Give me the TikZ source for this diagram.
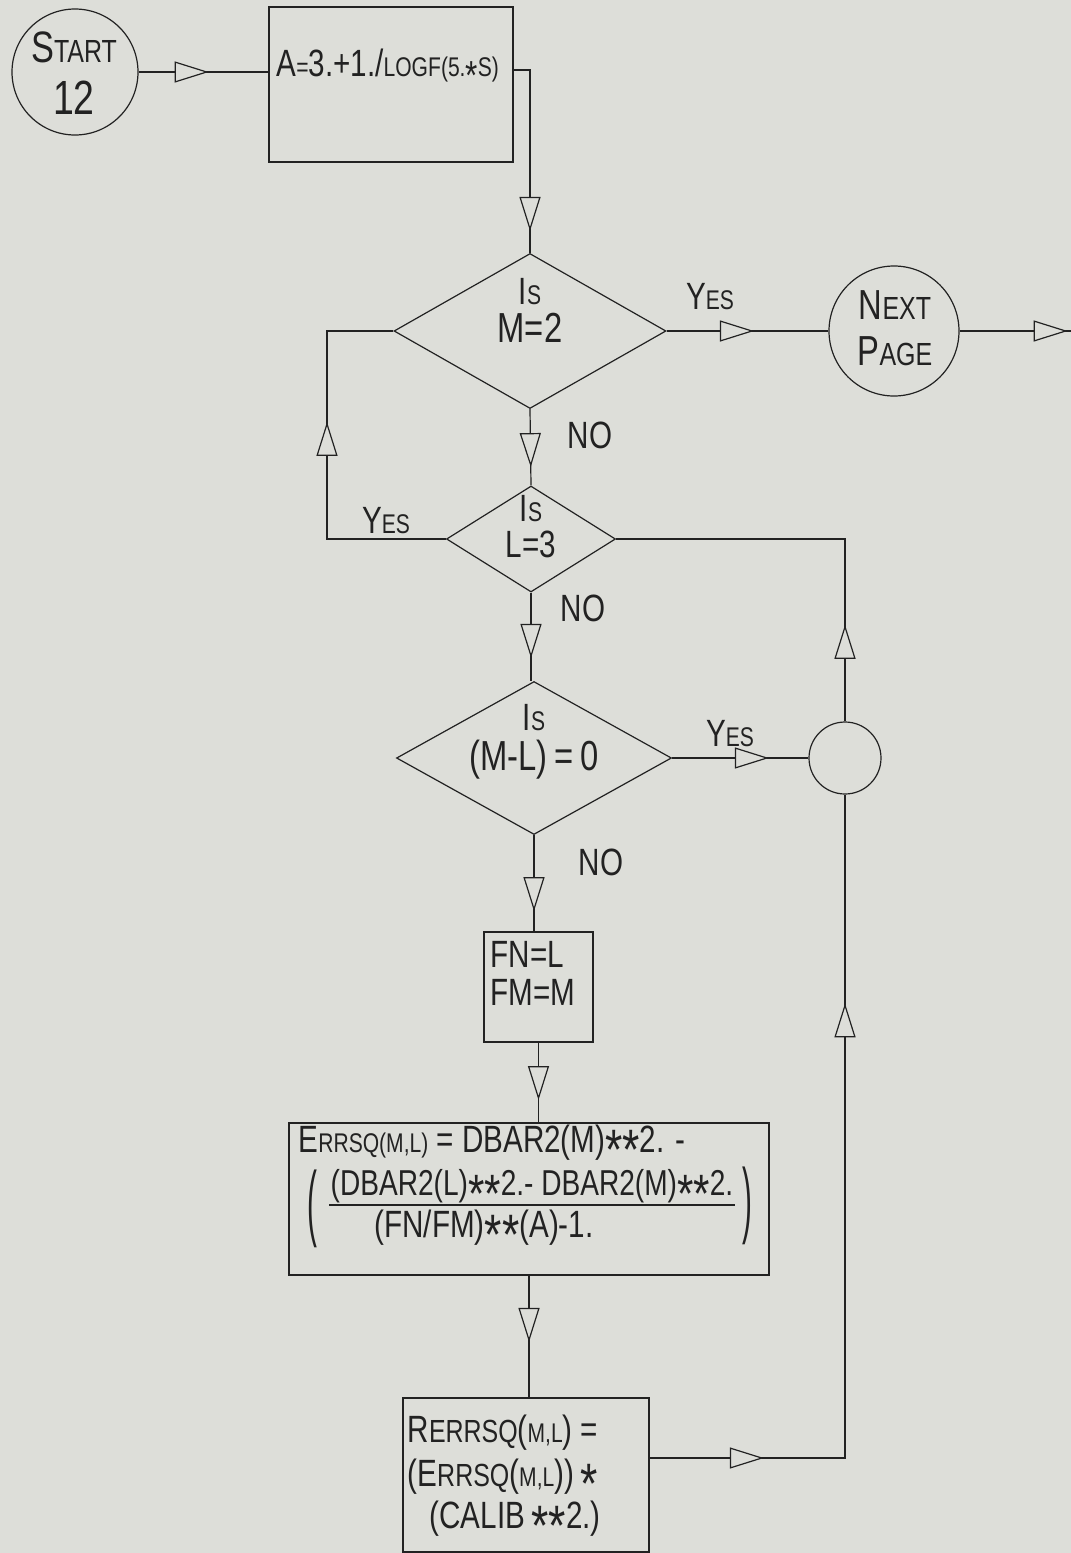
\documentclass[tikz,border=0pt]{standalone}
\usepackage{graphicx}
\usepackage{fontspec}
\setmainfont{Liberation Sans}[FakeStretch=0.78]
\usetikzlibrary{arrows.meta,shapes.geometric,decorations.markings}
\definecolor{paper}{RGB}{221,222,217}
\definecolor{ink}{RGB}{34,34,34}
\newcommand{\bigsz}{\fontsize{38}{42}\selectfont}
\newcommand{\midsz}{\fontsize{32}{36}\selectfont}
\newcommand{\smsz}{\fontsize{27}{32}\selectfont}
\newcommand{\sct}[2]{#1{\smsz #2}}
\newcommand{\mul}{\raisebox{-.45em}[0pt][0pt]{\scalebox{1.5}{*}}}
\tikzset{
  hollow/.tip={Triangle[length=34pt,width=21pt,fill=paper]},
  flow/.style={postaction={decorate},
    decoration={markings,mark=at position #1 with {\arrow{hollow}}}},
  flowtwo/.style 2 args={postaction={decorate},
    decoration={markings,mark=at position #1 with {\arrow{hollow}},
      mark=at position #2 with {\arrow{hollow}}}},
  term/.style={draw,circle,inner sep=0pt},
  proc/.style={draw,rectangle,inner sep=0pt},
  test/.style 2 args={draw,diamond,inner sep=0pt,minimum width=#1,minimum height=#2}
}
\begin{document}
\begin{tikzpicture}[x=1pt,y=-1pt,ink,line width=1.2pt,font=\bigsz,inner sep=1pt]
  \fill[paper] (0,0) rectangle (1071,1553);
  \useasboundingbox (0,0) rectangle (1071,1553);
  % start and first box
  \node[term,minimum size=126pt] (start) at (75,72) {};
  \node[align=center] (starttxt) at (74,73) {{\fontsize{44}{44}\selectfont S}{\fontsize{32}{32}\selectfont TART}\\[10pt]{\fontsize{48}{48}\selectfont 12}};
  \node[proc,minimum width=244pt,minimum height=155pt] (boxa) at (391,84.5) {};
  \node[anchor=west] (atxt) at (275,66) {A{\smsz =}3.+1./{\smsz LOGF(5.\mul S)}};
  % decisions
  \node[test={272pt}{155pt}] (m2) at (530,331) {};
  \node[align=center] (m2txt) at (530,310) {\sct{I}{S}\\[-4pt]{\fontsize{42}{42}\selectfont M=2}};
  \node[term,minimum size=130pt] (next) at (894,331) {};
  \node[align=center] (nexttxt) at (895,328) {{\fontsize{42}{42}\selectfont N}{\midsz EXT}\\[4pt]{\fontsize{42}{42}\selectfont P}{\midsz AGE}};
  \node[test={169pt}{106pt}] (l3) at (531,539) {};
  \node[align=center] (l3txt) at (531,527) {\sct{I}{S}\\[-6pt]L=3};
  \node[test={275pt}{153pt}] (ml) at (534,758) {};
  \node[align=center] (mltxt) at (534,742) {\sct{I}{S}\\[-2pt]{\fontsize{42}{42}\selectfont(M-L)\,=\,0}};
  \node[term,minimum size=72pt] (joint) at (845,758) {};
  % computing boxes
  \node[proc,minimum width=109pt,minimum height=110pt] (fn) at (538.5,987) {};
  \node[anchor=west,align=left] (fntxt) at (489,973) {FN=L\\[-4pt]FM=M};
  \node[proc,minimum width=480pt,minimum height=152pt] (err) at (529,1199) {};
  \node[anchor=west] (errtop) at (297,1143) {E{\smsz RRSQ(M,L)} = DBAR2(M)\mul\mul 2. -};
  \node[inner sep=0pt] (lpar) at (312,1209) {\scalebox{1}[2.2]{(}};
  \node[inner sep=0pt] (rpar) at (747,1206) {\scalebox{1}[2.2]{)}};
  \node[anchor=south,font=\fontsize{36}{40}\selectfont] (errnum) at (532,1205) {(DBAR2(L)\mul\mul 2.- DBAR2(M)\mul\mul 2.};
  \node[anchor=north] (errden) at (484,1208) {(FN/FM)\mul\mul(A)-1.};
  \draw (errnum.south west) -- (errnum.south east);
  \node[proc,minimum width=246pt,minimum height=154pt] (rerr) at (526,1475) {};
  \node[anchor=west,align=left] (rerrtxt) at (406,1476) {R{\midsz ERRSQ}({\smsz M,L}) =\\[2pt](E{\midsz RRSQ}({\smsz M,L}))\,\mul\\[0pt]\hspace*{22pt}(CALIB\,\mul\mul 2.)};
  % labels
  \node (yes1) at (710,297) {\sct{Y}{ES}};
  \node (no1) at (590,435) {NO};
  \node (yes2) at (386,521) {\sct{Y}{ES}};
  \node (no2) at (583,608) {NO};
  \node (yes3) at (730,734) {\sct{Y}{ES}};
  \node (no3) at (601,862) {NO};
  % connectors
  \coordinate (abend) at (530,70);
  \coordinate (lbend) at (327,331);
  \coordinate (pageend) at (1071,331);
  \draw[flow=0.54] (start.east) -- (start.east -| boxa.west);
  \draw[flow=0.89] (boxa.east |- abend) -- (abend) -- (m2.north);
  \draw[flow=0.54] (m2.east) -- (next.west);
  \draw[flow=0.97] (next.east) -- (pageend);
  \draw[flow=0.76] (m2.south) -- (l3.north);
  \draw[flow=0.60] (l3.west) -| (lbend) -- (m2.west);
  \draw[flow=0.74] (l3.south) -- (l3.south |- ml.north);
  \draw[flow=0.235] (joint.north) |- (l3.east);
  \draw[flow=0.71] (ml.east) -- (joint.west);
  \draw[flow=0.79] (ml.south) -- (ml.south |- fn.north);
  \draw[flow=0.72] (fn.south) -- (fn.south |- err.north);
  \draw[flow=0.545] (err.south) -- (err.south |- rerr.north);
  \draw[flowtwo={0.133}{0.757}] ([yshift=17pt]rerr.east) -| (joint.south);
\end{tikzpicture}
\end{document}
